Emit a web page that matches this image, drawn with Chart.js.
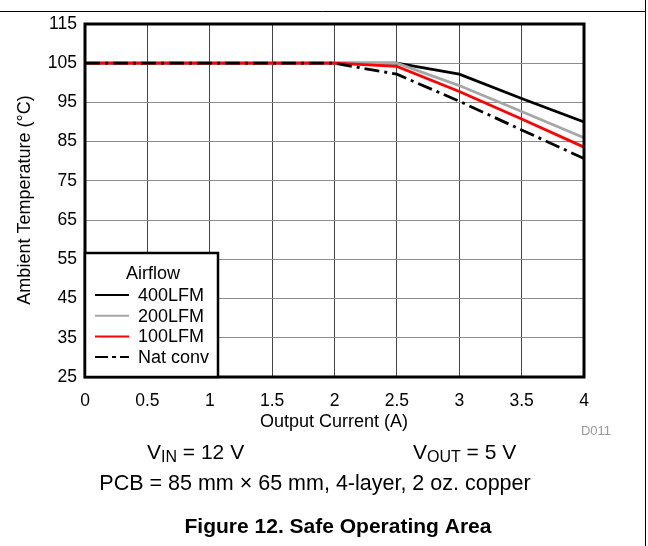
<!DOCTYPE html>
<html>
<head>
<meta charset="utf-8">
<script src="https://cdn.jsdelivr.net/npm/chart.js@4"></script>
<style>
  html, body { margin: 0; padding: 0; background: #fff; }
  #wrap { width: 648px; height: 546px; position: relative; }
</style>
</head>
<body>
<div id="wrap"><canvas id="soaChart" width="648" height="546"></canvas></div>
<script>
// values
const currents = [0, 0.5, 1, 1.5, 2, 2.5, 3, 3.5, 4];
const lfm400 = [105, 105, 105, 105, 105, 105, 102.2, 96, 90];
const lfm200 = [105, 105, 105, 105, 105, 105, 99.3, 92.7, 86];
const lfm100 = [105, 105, 105, 105, 105, 104.2, 97.8, 90.8, 83.6];
const natConv = [105, 105, 105, 105, 105, 102.2, 95.3, 88, 80.7];
const yTicks = [25, 35, 45, 55, 65, 75, 85, 95, 105, 115];
const xTicks = [0, 0.5, 1, 1.5, 2, 2.5, 3, 3.5, 4];

const FONT = '"Liberation Sans", Arial, sans-serif';

function toPoints(ys) {
    return currents.map((x, i) => ({ x: x, y: ys[i] }));
}

const series = [
    { label: '400LFM', data: lfm400, color: '#000000', dash: [], order: 3 },
    { label: '200LFM', data: lfm200, color: '#a6a6a6', dash: [], order: 2 },
    { label: '100LFM', data: lfm100, color: '#ff0000', dash: [], order: 1 },
    { label: 'Nat conv', data: natConv, color: '#000000', dash: [15, 5, 3, 5], order: 0 }
];

// texts, frame and legend box drawn on top of the chart
const annotations = {
    id: 'annotations',
    afterDraw(chart) {
        const ctx = chart.ctx;
        const area = chart.chartArea;
        ctx.save();

        // plot frame
        ctx.strokeStyle = '#000';
        ctx.lineWidth = 3;
        ctx.strokeRect(area.left, area.top, area.right - area.left, area.bottom - area.top);

        // legend box
        const lx = 85, ly = 253, lw = 133, lh = area.bottom - 253;
        ctx.fillStyle = '#fff';
        ctx.fillRect(lx, ly, lw, lh);
        ctx.lineWidth = 2.5;
        ctx.strokeRect(lx, ly, lw, lh);
        ctx.fillStyle = '#000';
        ctx.font = '18px ' + FONT;
        ctx.textBaseline = 'middle';
        ctx.textAlign = 'center';
        ctx.fillText('Airflow', 153, 274);
        ctx.textAlign = 'left';
        series.forEach((s, i) => {
            const y = 295 + i * 20.7;
            ctx.strokeStyle = s.color;
            ctx.lineWidth = 2;
            ctx.setLineDash(s.dash.length ? [13, 4, 4, 4] : []);
            ctx.beginPath();
            ctx.moveTo(95, y);
            ctx.lineTo(129, y);
            ctx.stroke();
            ctx.setLineDash([]);
            ctx.fillStyle = '#000';
            ctx.fillText(s.label, 138, y + 1);
        });

        // axis titles
        ctx.font = '18px ' + FONT;
        ctx.textAlign = 'center';
        ctx.fillText('Output Current (A)', 334, 422);
        ctx.save();
        ctx.translate(25, 200);
        ctx.rotate(-Math.PI / 2);
        ctx.fillText('Ambient Temperature (°C)', 0, 0);
        ctx.restore();

        // figure id
        ctx.fillStyle = '#999';
        ctx.font = '13px ' + FONT;
        ctx.fillText('D011', 596, 431);

        // conditions with subscripts
        ctx.fillStyle = '#000';
        ctx.textAlign = 'left';
        function withSub(x, y, main, sub, rest) {
            ctx.font = '21px ' + FONT;
            ctx.fillText(main, x, y);
            x += ctx.measureText(main).width;
            ctx.font = '16px ' + FONT;
            ctx.fillText(sub, x, y + 5);
            x += ctx.measureText(sub).width;
            ctx.font = '21px ' + FONT;
            ctx.fillText(rest, x, y);
        }
        withSub(147, 453, 'V', 'IN', ' = 12 V');
        withSub(413, 453, 'V', 'OUT', ' = 5 V');

        ctx.textAlign = 'center';
        ctx.font = '21.5px ' + FONT;
        ctx.fillText('PCB = 85 mm \u00d7 65 mm, 4-layer, 2 oz. copper', 315, 484);
        ctx.font = 'bold 21px ' + FONT;
        ctx.fillText('Figure 12. Safe Operating Area', 338, 527);

        // page rules
        ctx.strokeStyle = '#000';
        ctx.lineWidth = 1;
        ctx.beginPath();
        ctx.moveTo(0, 11.5);
        ctx.lineTo(645.5, 11.5);
        ctx.moveTo(645.5, 0);
        ctx.lineTo(645.5, 546);
        ctx.stroke();

        ctx.restore();
    }
};

const ctx = document.getElementById('soaChart');

new Chart(ctx, {
    type: 'line',
    data: {
        datasets: series.map(s => ({
            label: s.label,
            data: toPoints(s.data),
            borderColor: s.color,
            borderDash: s.dash,
            borderWidth: 2.8,
            pointRadius: 0,
            fill: false,
            tension: 0,
            order: s.order
        }))
    },
    options: {
        responsive: false,
        animation: false,
        layout: { padding: { left: 0, top: 24, right: 64, bottom: 0 } },
        plugins: {
            legend: { display: false },
            tooltip: { enabled: false }
        },
        scales: {
            x: {
                type: 'linear',
                min: 0,
                max: 4,
                afterFit: scale => { scale.height = 169; },
                afterBuildTicks: scale => { scale.ticks = xTicks.map(v => ({ value: v })); },
                grid: { color: '#444', lineWidth: 1, drawTicks: false },
                border: { display: false },
                ticks: {
                    color: '#000',
                    padding: 14,
                    font: { family: FONT, size: 17.5 },
                    maxRotation: 0,
                    callback: v => String(v)
                }
            },
            y: {
                min: 25,
                max: 115,
                afterFit: scale => { scale.width = 85; },
                afterBuildTicks: scale => { scale.ticks = yTicks.map(v => ({ value: v })); },
                grid: { color: '#8c8c8c', lineWidth: 1, drawTicks: false },
                border: { display: false },
                ticks: {
                    color: '#000',
                    padding: 8,
                    font: { family: FONT, size: 17.5 },
                    callback: v => String(v)
                }
            }
        }
    },
    plugins: [annotations]
});
</script>
</body>
</html>
